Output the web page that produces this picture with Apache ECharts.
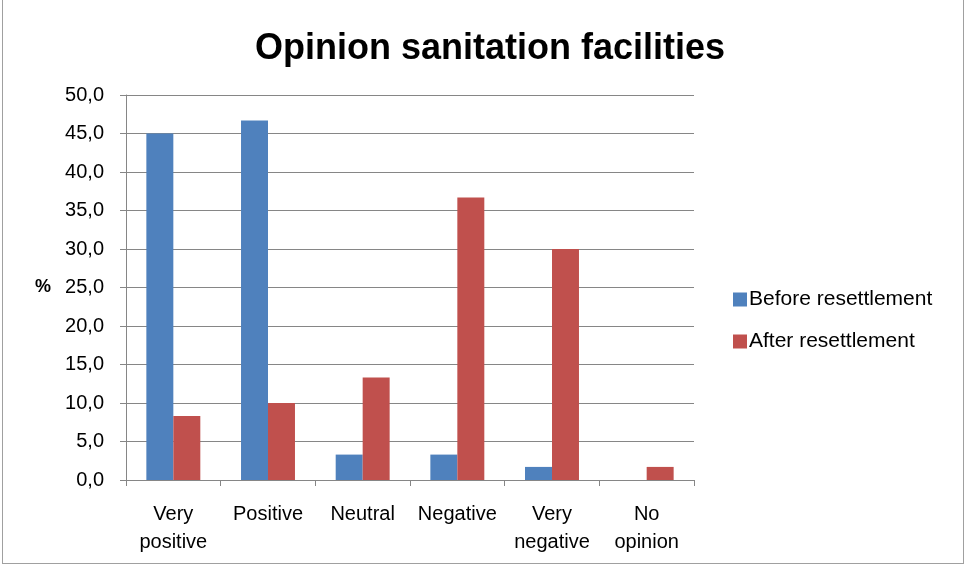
<!DOCTYPE html>
<html style="height: 100%">
<head>
    <meta charset="utf-8">
    <title>Opinion sanitation facilities</title>
    <script src="https://cdn.jsdelivr.net/npm/echarts@6/dist/echarts.min.js"></script>
    <style>
        body{margin:0;background:#fff;}
        #frame{position:absolute;left:2px;top:-2px;width:962px;height:566px;border:1px solid #a0a0a0;box-sizing:border-box;}
        #container{width:966px;height:567px;}
    </style>
</head>
<body>
<div id="frame"></div>
<div id="container"></div>
<script>
    // categories and values
    var categories = ['Very\npositive', 'Positive', 'Neutral', 'Negative', 'Very\nnegative', 'No\nopinion'];
    var beforeVals = [45.0, 46.7, 3.3, 3.3, 1.7, 0];
    var afterVals = [8.3, 10.0, 13.3, 36.7, 30.0, 1.7];
    var seriesNames = ['Before resettlement', 'After resettlement'];

    var font = 'Liberation Sans, Arial, sans-serif';
    var myChart = echarts.init(document.getElementById('container'));
    var option = {
        animation: false,
        title: {
            text: 'Opinion sanitation facilities',
            left: 485,
            textAlign: 'center',
            top: 26,
            textStyle: {fontFamily: font, fontSize: 36, fontWeight: 'bold', color: '#000'}
        },
        legend: {
            orient: 'vertical',
            left: 728,
            top: 284,
            itemWidth: 14,
            itemHeight: 14,
            itemGap: 21,
            icon: 'rect',
            textStyle: {fontFamily: font, fontSize: 21, color: '#000', padding: [0, 0, 0, -3]},
            data: seriesNames
        },
        grid: {left: 126, right: 272, top: 95, bottom: 87},
        xAxis: {
            type: 'category',
            data: categories,
            axisLine: {lineStyle: {color: '#868686'}},
            axisTick: {show: true, length: 6, lineStyle: {color: '#868686'}},
            axisLabel: {fontFamily: font, fontSize: 20, color: '#000', margin: 20, lineHeight: 28, interval: 0}
        },
        yAxis: {
            type: 'value',
            min: 0,
            max: 50,
            interval: 5,
            name: '%',
            nameLocation: 'middle',
            nameRotate: 0,
            nameGap: 75,
            nameTextStyle: {fontFamily: font, fontSize: 18, fontWeight: 'bold', color: '#000'},
            axisLine: {show: true, lineStyle: {color: '#868686'}},
            axisTick: {show: true, length: 6, inside: false, lineStyle: {color: '#868686'}},
            splitLine: {lineStyle: {color: '#868686', width: 1}},
            axisLabel: {
                fontFamily: font, fontSize: 20, color: '#000', margin: 22,
                formatter: function (v) { return v.toFixed(1).replace('.', ','); }
            }
        },
        series: [
            {
                name: seriesNames[0],
                type: 'bar',
                data: beforeVals,
                barGap: '0%',
                barCategoryGap: '43%',
                itemStyle: {color: '#4F81BD'}
            },
            {
                name: seriesNames[1],
                type: 'bar',
                data: afterVals,
                barGap: '0%',
                barCategoryGap: '43%',
                itemStyle: {color: '#C0504D'}
            }
        ]
    };
    myChart.setOption(option);
</script>
</body>
</html>
